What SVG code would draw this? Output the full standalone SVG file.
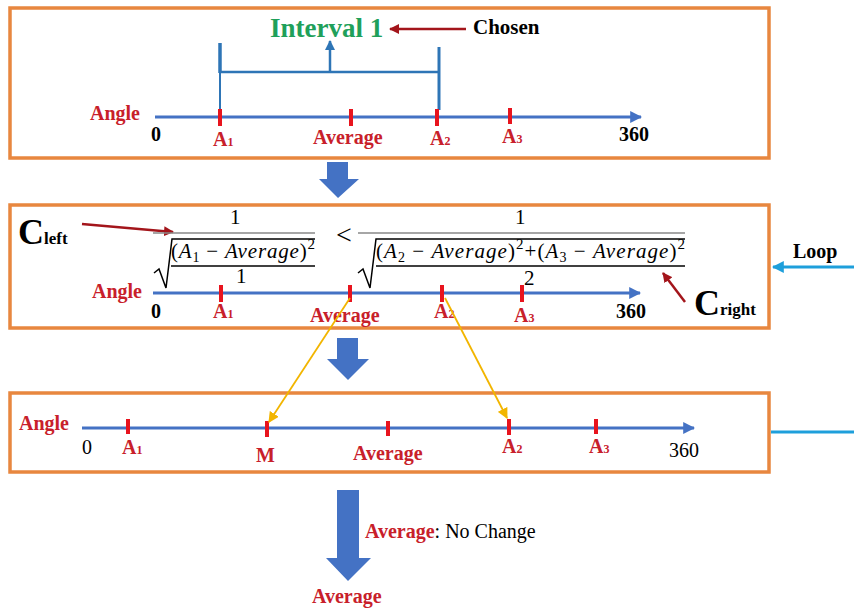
<svg xmlns="http://www.w3.org/2000/svg" width="854" height="612" viewBox="0 0 854 612">
<defs>
<style>
.box{fill:#fff;stroke:#E8873F;stroke-width:3.5}
.axis{stroke:#4472C4;stroke-width:3;fill:none}
.tick{stroke:#E8141E;stroke-width:4}
.lbl{font-family:"Liberation Serif",serif;font-weight:bold;fill:#C8202A;font-size:20px}
.blk{font-family:"Liberation Serif",serif;font-weight:bold;fill:#000;font-size:20px}
.math{font-family:"Liberation Serif",serif;fill:#000;font-size:21px}
.bar{stroke:#000;stroke-width:1.5;fill:none}
.bar2{stroke:#888;stroke-width:1.5;fill:none}
.blue{fill:#4472C4}
.yl{stroke:#F2B500;stroke-width:1.8;fill:none}
.dr{stroke:#A3151B;stroke-width:2.5;fill:none}
.cy{stroke:#1E9FDB;stroke-width:3;fill:none}
</style>
<marker id="mAx" viewBox="0 0 10 10" refX="9" refY="5" markerWidth="4" markerHeight="4" orient="auto" markerUnits="strokeWidth"><path d="M0,0 L10,5 L0,10 z" fill="#4472C4"/></marker>
<marker id="mBr" viewBox="0 0 10 10" refX="9" refY="5" markerWidth="4" markerHeight="4" orient="auto" markerUnits="strokeWidth"><path d="M0,0 L10,5 L0,10 z" fill="#2E75B6"/></marker>
<marker id="mDr" viewBox="0 0 10 10" refX="9" refY="5" markerWidth="4" markerHeight="4" orient="auto" markerUnits="strokeWidth"><path d="M0,0 L10,5 L0,10 z" fill="#A3151B"/></marker>
<marker id="mYl" viewBox="0 0 10 10" refX="9" refY="5" markerWidth="6" markerHeight="6" orient="auto" markerUnits="strokeWidth"><path d="M0,0 L10,5 L0,10 z" fill="#F2B500"/></marker>
<marker id="mCy" viewBox="0 0 10 10" refX="9" refY="5" markerWidth="4" markerHeight="4" orient="auto" markerUnits="strokeWidth"><path d="M0,0 L10,5 L0,10 z" fill="#1E9FDB"/></marker>
</defs>
<rect width="854" height="612" fill="#fff"/>

<g id="box1">
<rect class="box" x="10" y="8" width="759" height="150"/>
<text x="270" y="37" style="font-family:'Liberation Serif',serif;font-weight:bold;font-size:27px;fill:#1FA05A">Interval 1</text>
<text x="473" y="34" class="blk" style="font-size:21px">Chosen</text>
<line class="dr" x1="466" y1="29" x2="390" y2="29" marker-end="url(#mDr)"/>
<line x1="220" y1="43" x2="220" y2="73" stroke="#2E75B6" stroke-width="3.5"/>
<line x1="220" y1="72" x2="220" y2="110" stroke="#2E75B6" stroke-width="2"/>
<line x1="439" y1="47" x2="439" y2="110" stroke="#2E75B6" stroke-width="3"/>
<line x1="220" y1="72" x2="439" y2="72" stroke="#2E75B6" stroke-width="2.5"/>
<line x1="330" y1="72" x2="330" y2="41" stroke="#2E75B6" stroke-width="2.5" marker-end="url(#mBr)"/>
<line class="axis" x1="155" y1="117" x2="641" y2="117" marker-end="url(#mAx)"/>
<line class="tick" x1="220" y1="109" x2="220" y2="126"/>
<line class="tick" x1="351" y1="109" x2="351" y2="126"/>
<line class="tick" x1="437" y1="109" x2="437" y2="126"/>
<line class="tick" x1="510" y1="108" x2="510" y2="124"/>
<text class="lbl" x="90" y="120">Angle</text>
<text class="blk" x="151" y="141">0</text>
<text class="lbl" x="213" y="146">A<tspan font-size="12">1</tspan></text>
<text class="lbl" x="313" y="144">Average</text>
<text class="lbl" x="430" y="145">A<tspan font-size="12">2</tspan></text>
<text class="lbl" x="502" y="143">A<tspan font-size="12">3</tspan></text>
<text class="blk" x="619" y="141">360</text>
</g>

<g id="box2">
<rect class="box" x="10" y="205" width="759" height="123"/>
<text x="18" y="244" style="font-family:'Liberation Serif',serif;font-weight:bold;font-size:36px;fill:#000">C<tspan font-size="17">left</tspan></text>
<line class="dr" x1="82" y1="224" x2="173" y2="232" marker-end="url(#mDr)"/>
<text class="math" x="230" y="224">1</text>
<line class="bar2" x1="153" y1="233" x2="315" y2="233"/>
<path class="bar" d="M154,273 L159,269 L166,288 L172,239 L315,239"/>
<text class="math" x="171" y="258" textLength="144"><tspan>(</tspan><tspan font-style="italic">A</tspan><tspan font-size="14" dy="4">1</tspan><tspan dy="-4"> − </tspan><tspan font-style="italic">Average</tspan><tspan>)</tspan><tspan font-size="15" dy="-9">2</tspan></text>
<line class="bar" x1="171" y1="266" x2="315" y2="266"/>
<text class="math" x="236" y="283">1</text>
<text class="math" x="336" y="244" style="font-size:28px">&lt;</text>
<text class="math" x="515" y="224">1</text>
<line class="bar2" x1="358" y1="233" x2="685" y2="233"/>
<path class="bar" d="M358,273 L363,269 L370,288 L376,239 L685,239"/>
<text class="math" x="376" y="258" textLength="309"><tspan>(</tspan><tspan font-style="italic">A</tspan><tspan font-size="14" dy="4">2</tspan><tspan dy="-4"> − </tspan><tspan font-style="italic">Average</tspan><tspan>)</tspan><tspan font-size="15" dy="-9">2</tspan><tspan dy="9">+(</tspan><tspan font-style="italic">A</tspan><tspan font-size="14" dy="4">3</tspan><tspan dy="-4"> − </tspan><tspan font-style="italic">Average</tspan><tspan>)</tspan><tspan font-size="15" dy="-9">2</tspan></text>
<line class="bar" x1="376" y1="266" x2="685" y2="266"/>
<text class="math" x="524" y="285">2</text>
<text x="694" y="315" style="font-family:'Liberation Serif',serif;font-weight:bold;font-size:36px;fill:#000">C<tspan font-size="17">right</tspan></text>
<line class="dr" x1="685" y1="302" x2="663" y2="273" marker-end="url(#mDr)"/>
<line class="axis" x1="153" y1="293" x2="640" y2="293" marker-end="url(#mAx)"/>
<line class="tick" x1="221" y1="285" x2="221" y2="302"/>
<line class="tick" x1="350" y1="285" x2="350" y2="302"/>
<line class="tick" x1="442" y1="285" x2="442" y2="302"/>
<line class="tick" x1="522" y1="285" x2="522" y2="302"/>
<text class="lbl" x="92" y="298">Angle</text>
<text class="blk" x="151" y="318">0</text>
<text class="lbl" x="213" y="318">A<tspan font-size="12">1</tspan></text>
<text class="lbl" x="310" y="322">Average</text>
<text class="lbl" x="434" y="318">A<tspan font-size="12">2</tspan></text>
<text class="lbl" x="514" y="322">A<tspan font-size="12">3</tspan></text>
<text class="blk" x="616" y="318">360</text>
</g>

<g id="box3">
<rect class="box" x="10" y="393" width="759" height="79"/>
<line class="axis" x1="82" y1="428" x2="694" y2="428" marker-end="url(#mAx)"/>
<line class="tick" x1="128" y1="419" x2="128" y2="434"/>
<line class="tick" x1="267" y1="421" x2="267" y2="437"/>
<line class="tick" x1="388" y1="421" x2="388" y2="436"/>
<line class="tick" x1="509" y1="419" x2="509" y2="435"/>
<line class="tick" x1="596" y1="419" x2="596" y2="434"/>
<text class="lbl" x="19" y="430">Angle</text>
<text class="blk" x="82" y="454" style="font-weight:normal">0</text>
<text class="lbl" x="122" y="454">A<tspan font-size="12">1</tspan></text>
<text class="lbl" x="256" y="462">M</text>
<text class="lbl" x="353" y="460">Average</text>
<text class="lbl" x="502" y="453">A<tspan font-size="12">2</tspan></text>
<text class="lbl" x="589" y="453">A<tspan font-size="12">3</tspan></text>
<text class="blk" x="669" y="457" style="font-weight:normal">360</text>
</g>

<g id="result">
<text x="365" y="538" style="font-family:'Liberation Serif',serif;font-size:20px"><tspan fill="#C8202A" font-weight="bold">Average</tspan><tspan fill="#000">: No Change</tspan></text>
<text class="lbl" x="312" y="603">Average</text>
</g>

<g id="loop">
<text class="blk" x="793" y="258">Loop</text>
</g>

<g id="connectors">
<polygon class="blue" points="327,162 348,162 348,179 359,179 338,198 319,179 327,179"/>
<polygon class="blue" points="337,338 358,338 358,359 369,359 348,380 327,359 337,359"/>
<polygon class="blue" points="337,490 359,490 359,558 371,558 348,581 326,558 337,558"/>
<line class="yl" x1="350" y1="298" x2="269" y2="422" marker-end="url(#mYl)"/>
<line class="yl" x1="445" y1="298" x2="507" y2="418" marker-end="url(#mYl)"/>
<line class="cy" x1="854" y1="267" x2="773" y2="267" marker-end="url(#mCy)"/>
<line class="cy" x1="771" y1="432" x2="854" y2="432"/>
</g>
</svg>
